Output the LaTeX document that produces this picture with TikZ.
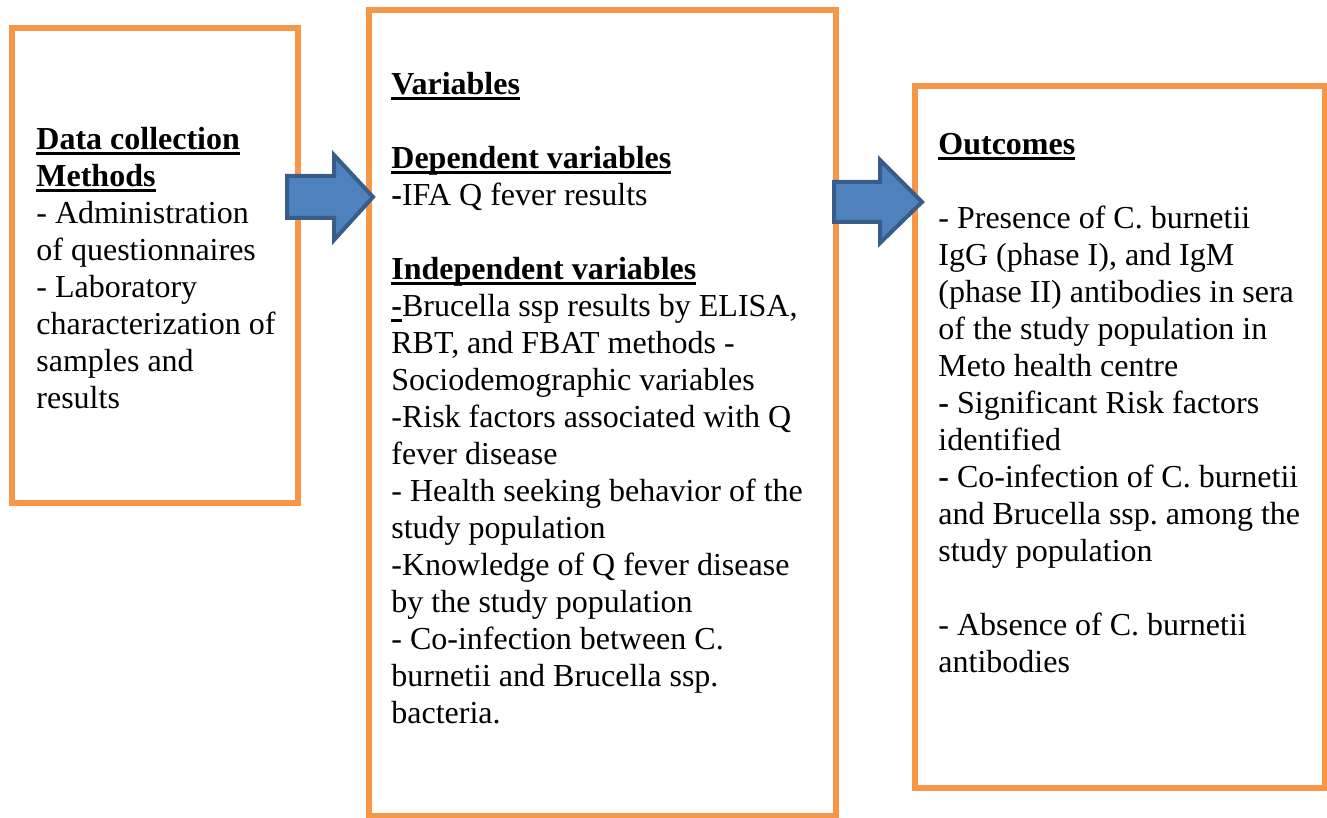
\documentclass[tikz,border=0pt]{standalone}
\usepackage{fontspec}
\setmainfont{Liberation Serif}
\usetikzlibrary{positioning}

\definecolor{boxorange}{HTML}{F79646}
\definecolor{arrowfill}{HTML}{4F81BD}
\definecolor{arrowline}{HTML}{385D8A}

\newcommand\ulbar[1]{\leavevmode\setbox0\hbox{#1}\rlap{\rule[-2.6pt]{\wd0}{1.4pt}}\box0}
\newcommand\hdr[1]{\ulbar{\textbf{#1}}}

\tikzset{
  framebox/.style={draw=boxorange, line width=2.6pt, fill=white},
  blockarrow/.style={draw=arrowline, line width=2pt, fill=arrowfill, line join=miter},
  boxtext/.style={anchor=base west, inner sep=0pt, align=left,
    font=\fontsize{16}{18.5}\selectfont,
    execute at begin node={\spaceskip=0.25em\xspaceskip=0.25em}}
}

\begin{document}
\begin{tikzpicture}[x=0.5pt,y=-0.5pt]
\useasboundingbox (0,0) rectangle (1327,818);
%
\draw[framebox] (12,28) rectangle (298,503);
\draw[framebox] (369,10) rectangle (836,816);
\draw[framebox] (915,86) rectangle (1325,788);
%
\draw[blockarrow] (287,176) -- (334,176) -- (334,155) -- (373,197)
  -- (334,240) -- (334,218) -- (287,218) -- cycle;
\draw[blockarrow] (834,182) -- (880,182) -- (880,160) -- (922,202)
  -- (880,243) -- (880,222) -- (834,222) -- cycle;
%
\node[boxtext, text width=140pt] (methods) at (36,150)
  {\hdr{Data collection}\\
   \hdr{Methods}\\
   - Administration\\
   of questionnaires\\
   - Laboratory\\
   characterization of\\
   samples and\\
   results};
\node[boxtext, text width=225pt] (variables) at (391,95)
  {\hdr{Variables}\\[18.5pt]
   \hdr{Dependent variables}\\
   \textbf{-}IFA Q fever results\\[18.5pt]
   \hdr{Independent variables}\\
   \ulbar{\textbf{-}}Brucella ssp results by ELISA,\\
   RBT, and FBAT methods -\\
   Sociodemographic variables\\
   -Risk factors associated with Q\\
   fever disease\\
   - Health seeking behavior of the\\
   study population\\
   -Knowledge of Q fever disease\\
   by the study population\\
   - Co-infection between C.\\
   burnetii and Brucella ssp.\\
   bacteria.};
\node[boxtext, text width=190pt] (outcomes) at (938,155)
  {\hdr{Outcomes}\\[18.5pt]
   - Presence of C. burnetii\\
   IgG (phase I), and IgM\\
   (phase II) antibodies in sera\\
   of the study population in\\
   Meto health centre\\
   \textbf{-} Significant Risk factors\\
   identified\\
   \textbf{-} Co-infection of C. burnetii\\
   and Brucella ssp. among the\\
   study population\\[18.5pt]
   - Absence of C. burnetii\\
   antibodies};
\end{tikzpicture}
\end{document}
